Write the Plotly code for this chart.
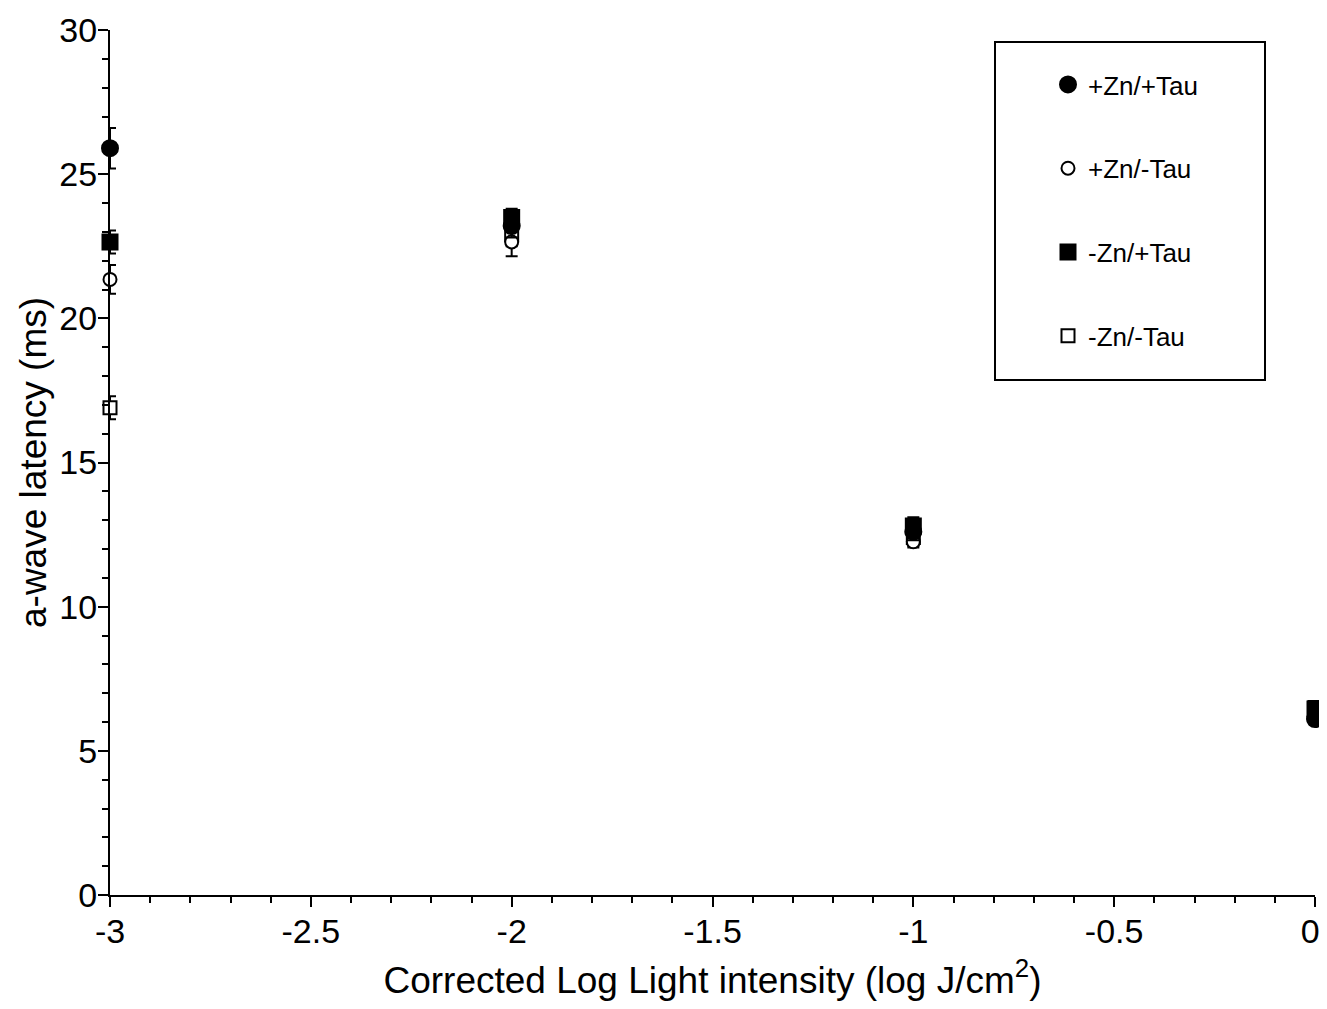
import plotly.graph_objects as go

x_vals = [-3, -2, -1, 0]
series_names = ["+Zn/+Tau", "+Zn/-Tau", "-Zn/+Tau", "-Zn/-Tau"]
zp_tp = [25.9, 23.2, 12.6, 6.1]
zp_tp_err = [0.7, 0.4, 0.3, 0.2]
zp_tm = [21.35, 22.65, 12.25, 6.2]
zp_tm_err = [0.5, 0.5, 0.2, 0.2]
zm_tp = [22.65, 23.5, 12.8, 6.45]
zm_tp_err = [0.4, 0.3, 0.3, 0.2]
zm_tm = [16.9, 22.9, 12.4, 6.5]
zm_tm_err = [0.4, 0.4, 0.3, 0.2]

x_ticks = [-3, -2.5, -2, -1.5, -1, -0.5, 0]
x_ticklabels = ["-3", "-2.5", "-2", "-1.5", "-1", "-0.5", "0\u00a0"]
y_ticks = [0, 5, 10, 15, 20, 25, 30]

# (name, values, errors, symbol, fill, size, legend rank); listed in drawing order
series = [
    (series_names[3], zm_tm, zm_tm_err, "square", "white", 13, 4),
    (series_names[1], zp_tm, zp_tm_err, "circle", "white", 13, 2),
    (series_names[0], zp_tp, zp_tp_err, "circle", "black", 16, 1),
    (series_names[2], zm_tp, zm_tp_err, "square", "black", 15, 3),
]

# page body has an 8px default margin; compensate
OFF = 8
W, H = 1327 - OFF, 1009 - 2 * OFF
L, R, T = 110 - OFF, 12, 30 - OFF
PW, PH = 1205, 865
B = H - T - PH


def px_x(p):
    return (p - 110) / PW


def px_y(p):
    return (895 - p) / PH


fig = go.Figure()
for name, ys, errs, sym, fill, size, rank in series:
    fig.add_trace(go.Scatter(
        x=x_vals, y=ys, mode="markers", name=name,
        legendgroup=name, legendrank=rank,
        marker=dict(symbol=sym, color=fill, size=size,
                    line=dict(color="black", width=2)),
        error_y=dict(type="data", array=errs, visible=True,
                     color="black", thickness=2, width=6),
        cliponaxis=False,
    ))

fig.add_shape(type="rect", xref="paper", yref="paper",
              x0=px_x(995), x1=px_x(1265), y0=px_y(380), y1=px_y(42),
              line=dict(color="black", width=2), fillcolor="rgba(0,0,0,0)")

font_family = "Liberation Sans, Arial, sans-serif"
fig.update_layout(
    width=W, height=H,
    margin=dict(l=L, r=R, t=T, b=B, autoexpand=False),
    paper_bgcolor="white", plot_bgcolor="white",
    font=dict(family=font_family, color="black"),
    showlegend=True,
    legend=dict(x=px_x(1048), y=px_y(61), xanchor="left", yanchor="top",
                font=dict(size=26), tracegroupgap=47, bgcolor="rgba(0,0,0,0)",
                itemsizing="trace", traceorder="grouped"),
    xaxis=dict(range=[-3, 0], tickvals=x_ticks, ticktext=x_ticklabels,
               showgrid=False, zeroline=False, showline=True, linecolor="black",
               linewidth=2, ticks="outside", ticklen=10, tickwidth=2, tickcolor="black",
               tickfont=dict(size=34), ticklabelstandoff=-5, ticklabeloverflow="allow",
               minor=dict(dtick=0.1, ticks="outside", ticklen=6, tickwidth=1.5, tickcolor="black"),
               title=dict(text="Corrected Log Light intensity (log J/cm<sup>2</sup>)",
                          font=dict(size=37), standoff=20)),
    yaxis=dict(range=[0, 30], tickvals=y_ticks,
               showgrid=False, zeroline=False, showline=True, linecolor="black",
               linewidth=2, ticks="outside", ticklen=10, tickwidth=2, tickcolor="black",
               tickfont=dict(size=34), ticklabelstandoff=-6,
               minor=dict(dtick=1, ticks="outside", ticklen=6, tickwidth=1.5, tickcolor="black"),
               title=dict(text="a-wave latency (ms)", font=dict(size=37), standoff=1)),
)

fig.write_html("out.html")
